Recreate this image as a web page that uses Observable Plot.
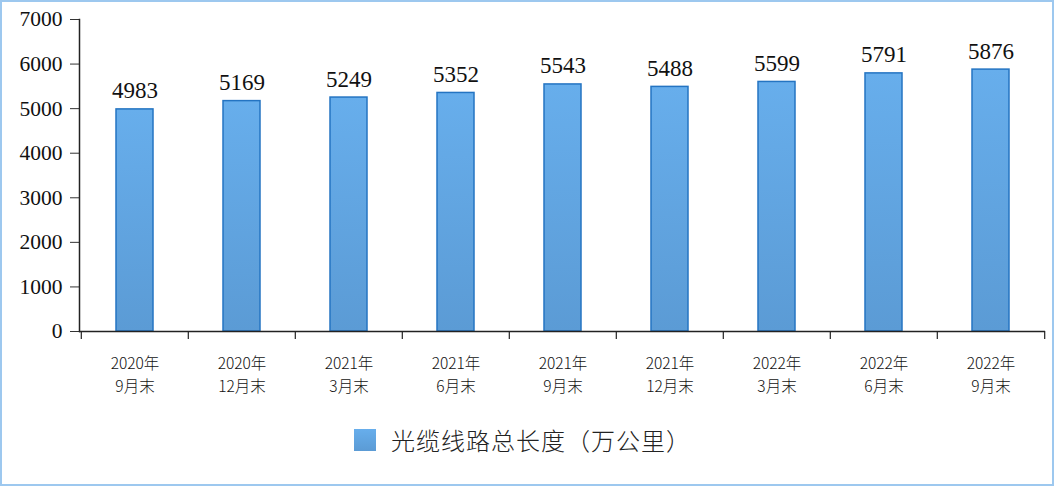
<!DOCTYPE html>
<html>
<head>
<meta charset="utf-8">
<script src="https://cdn.jsdelivr.net/npm/d3@7"></script>
<script src="https://cdn.jsdelivr.net/npm/@observablehq/plot@0.6"></script>
<style>
  html, body { margin: 0; padding: 0; background: #fff; }
  #frame {
    position: relative; width: 1054px; height: 486px; box-sizing: border-box;
    border: 2px solid #9dc8ef; overflow: hidden; background: #fff;
  }
  #chart { position: absolute; left: 0; top: 0; }
  #legend {
    position: absolute; left: 352px; top: 420px; display: flex; align-items: center;
    font-family: "Noto Sans CJK SC", sans-serif; font-size: 24px; font-weight: 300;
    letter-spacing: 1px; color: #222;
  }
  #legend .sw {
    width: 22px; height: 22px; margin-right: 15px;
    background: linear-gradient(#67aeec, #5b9bd5);
  }
</style>
</head>
<body>
<div id="frame">
  <div id="chart"></div>
  <div id="legend"><div class="sw"></div><span>光缆线路总长度（万公里）</span></div>
</div>
<script>
const categories = ["2020年\n9月末", "2020年\n12月末", "2021年\n3月末", "2021年\n6月末", "2021年\n9月末", "2021年\n12月末", "2022年\n3月末", "2022年\n6月末", "2022年\n9月末"];
const values = [4983, 5169, 5249, 5352, 5543, 5488, 5599, 5791, 5876];
const yTicks = [0, 1000, 2000, 3000, 4000, 5000, 6000, 7000];

const data = categories.map((c, i) => ({ cat: c, value: values[i] }));

const W = 1050, H = 400, ML = 77, MR = 7;
const bw = (W - ML - MR) / categories.length;

const gradient = () => {
  const defs = d3.create("svg:defs");
  const g = defs.append("linearGradient").attr("id", "barGrad")
    .attr("x1", 0).attr("y1", 0).attr("x2", 0).attr("y2", 1);
  g.append("stop").attr("offset", "0%").attr("stop-color", "#67aeec");
  g.append("stop").attr("offset", "100%").attr("stop-color", "#5b9bd5");
  return defs.node();
};

const chart = Plot.plot({
  width: W,
  height: H,
  marginLeft: ML,
  marginRight: MR,
  marginTop: 17,
  marginBottom: 71,
  style: { background: "transparent", overflow: "visible" },
  x: { domain: categories, padding: 0, label: null },
  y: { domain: [0, 7000], label: null },
  marks: [
    gradient,
    Plot.barY(data, {
      x: "cat", y: "value", fill: "url(#barGrad)", stroke: "#2474c2", strokeWidth: 1.5,
      insetLeft: 35, insetRight: 35
    }),
    Plot.text(data, {
      x: "cat", y: "value", text: d => String(d.value), lineAnchor: "bottom", dy: -11,
      fontFamily: "Liberation Serif, serif", fontSize: 23, fill: "#111"
    }),
    Plot.axisY({
      ticks: yTicks, tickSize: 9, tickPadding: 8, tickFormat: d => String(d),
      fontFamily: "Liberation Serif, serif", fontSize: 21.5, color: "#111", stroke: "#333"
    }),
    Plot.axisX({
      tickSize: 0, tickPadding: 22, lineHeight: 1.45,
      fontFamily: "Noto Sans CJK SC, sans-serif", fontSize: 15.5, fontWeight: 300, color: "#111"
    }),
    Plot.ruleX(categories, { x: d => d, y1: 0, y2: 0, insetBottom: -8, dx: -bw / 2, stroke: "#333", strokeWidth: 1.3 }),
    Plot.ruleX(categories.slice(-1), { x: d => d, y1: 0, y2: 0, insetBottom: -8, dx: bw / 2, stroke: "#333", strokeWidth: 1.3 }),
    Plot.frame({ anchor: "left", stroke: "#222", strokeWidth: 1.5 }),
    Plot.ruleY([0], { stroke: "#222", strokeWidth: 1.5 })
  ]
});
document.getElementById("chart").appendChild(chart);
</script>
</body>
</html>
